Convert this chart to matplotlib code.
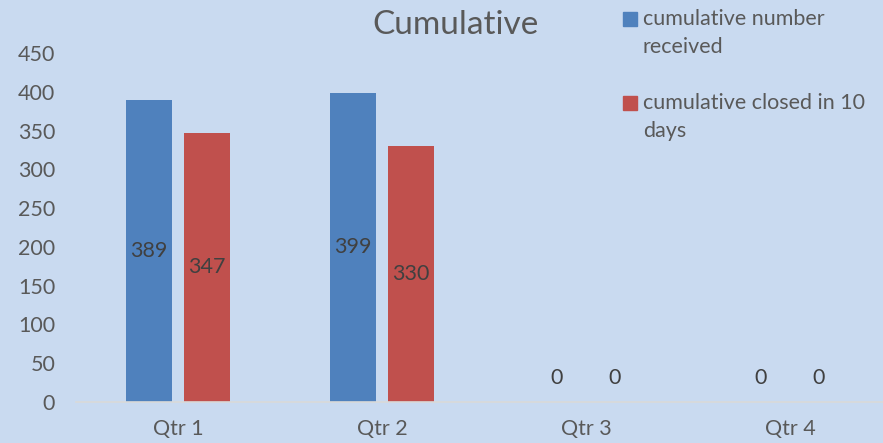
import matplotlib

matplotlib.use("Agg")
import matplotlib.pyplot as plt
from matplotlib.patches import Rectangle
import numpy as np

categories = ["Qtr 1", "Qtr 2", "Qtr 3", "Qtr 4"]
received = [389, 399, 0, 0]
closed = [347, 330, 0, 0]
series_names = ["cumulative number\nreceived", "cumulative closed in 10\ndays"]
series_colors = ["#4f81bd", "#c0504d"]
y_ticks = [0, 50, 100, 150, 200, 250, 300, 350, 400, 450]

plt.rcParams["font.family"] = ["Lato", "DejaVu Sans"]
text_color = "#595959"
bg = "#c9daf0"
W, H = 883, 443

fig = plt.figure(figsize=(8.83, 4.43), dpi=100, facecolor=bg)
ax = fig.add_axes([76 / W, 41 / H, 807 / W, 349 / H])
ax.set_facecolor(bg)

x = np.arange(len(categories))
w = 0.225
off = 0.142
b1 = ax.bar(x - off, received, w, color=series_colors[0])
b2 = ax.bar(x + off, closed, w, color=series_colors[1])

for bars in (b1, b2):
    for rect in bars:
        h = rect.get_height()
        cx = rect.get_x() + rect.get_width() / 2
        ypos = h / 2 if h > 0 else 31
        ax.text(cx, ypos, f"{h:.0f}", ha="center", va="center",
                fontsize=15.5, color="#404040")

ax.set_xlim(-0.5, 3.5 - 9 / 204)
ax.set_ylim(0, 450)
ax.set_yticks(y_ticks)
ax.set_xticks(x)
ax.set_xticklabels(categories)
ax.tick_params(axis="both", length=0, labelsize=15.5, colors=text_color)
ax.tick_params(axis="y", pad=15)
ax.tick_params(axis="x", pad=12)
for s in ("top", "right", "left"):
    ax.spines[s].set_visible(False)
ax.spines["bottom"].set_color("#d9d9d9")
ax.spines["bottom"].set_linewidth(1.2)

fig.text(456 / W, 1 - 25 / H, "Cumulative", ha="center", va="center",
         fontsize=24, color=text_color)

# legend drawn by hand so the marker lines up with the first text line
for i, (name, col) in enumerate(zip(series_names, series_colors)):
    y0 = 19 + i * 84
    fig.add_artist(Rectangle((623 / W, 1 - (y0 + 7) / H), 14 / W, 14 / H,
                             transform=fig.transFigure, color=col))
    for k, line in enumerate(name.split("\n")):
        fig.text(643 / W, 1 - (y0 + k * 28) / H, line, ha="left", va="center",
                 fontsize=15.5, color=text_color)

fig.savefig("out.png", dpi=100, facecolor=bg)
